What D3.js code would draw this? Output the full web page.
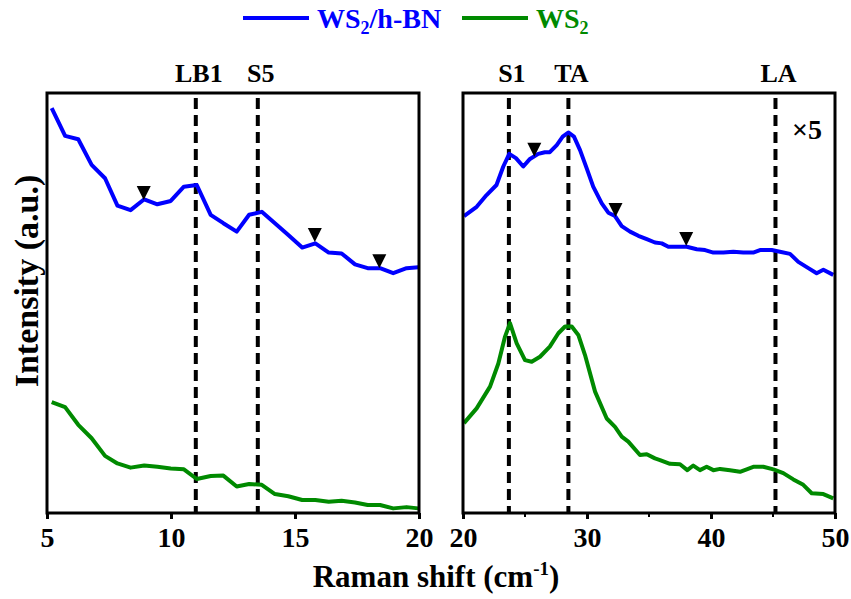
<!DOCTYPE html>
<meta charset="utf-8">
<style>
	body { margin: 0; background: #fff; }
	text { font-family: "Liberation Serif", "Times New Roman", serif; font-weight: bold; }
</style>
<body>
<script src="https://cdn.jsdelivr.net/npm/d3@7"></script>
<script>
	// ---- data (intensity in arbitrary units, 0-100) ----
	var leftX = [5.19,5.73,6.26,6.8,7.34,7.84,8.37,8.92,9.45,9.99,10.52,11.04,11.6,12.11,12.65,13.15,13.66,14.19,14.73,15.29,15.82,16.36,16.88,17.42,17.93,18.43,18.96,19.5,19.97];
	var leftBN = [96.4,89.8,89.0,82.9,79.7,73.2,72.1,74.7,73.5,74.3,77.7,78.1,71.0,69.0,67.0,71.0,71.7,69.0,66.2,63.2,64.2,62.0,61.8,59.2,58.3,58.3,57.1,58.3,58.5];
	var leftWS2 = [26.4,25.2,21.0,17.8,13.6,11.8,10.8,11.3,11.0,10.6,10.4,8.1,8.8,8.9,6.3,6.9,6.7,4.5,4.0,3.1,3.1,2.7,2.9,2.5,1.9,1.9,1.1,1.4,1.1];

	var rightBNX = [20.08,21.1,21.9,22.7,23.25,23.73,24.27,24.86,25.4,26.07,26.6,27.0,27.56,28.04,28.49,28.95,29.44,29.97,30.5,31.19,31.72,32.26,32.8,33.47,34.14,34.82,35.48,36.03,36.56,37.23,38.04,38.85,39.52,40.19,41.0,41.8,42.6,43.4,43.95,44.9,45.56,46.37,47.04,47.85,48.52,49.06,49.86];
	var rightBN = [70.7,72.9,75.7,78.1,82.5,85.5,84.5,82.5,84.3,85.5,85.9,85.9,87.6,89.6,90.6,89.6,86.4,82.1,77.7,73.7,71.5,70.7,68.3,67.0,66.0,65.2,64.4,64.2,63.4,63.4,63.4,62.8,62.6,62.0,62.0,62.2,62.0,62.0,62.6,62.6,62.2,61.7,59.8,58.3,57.1,57.9,56.7];
	var rightWSX = [20.08,21.1,22.18,22.85,23.39,23.79,24.33,25.0,25.54,26.21,27.0,27.69,28.23,28.77,29.3,29.84,30.65,31.59,32.26,32.8,33.33,34.27,34.82,35.48,35.89,36.69,37.5,38.09,38.57,39.11,39.65,40.19,40.73,41.53,42.34,42.88,43.41,44.22,45.03,45.83,46.64,47.44,48.12,49.06,49.86];
	var rightWS2 = [21.4,24.9,30.1,35.6,42.0,45.2,40.4,36.4,36.0,37.2,39.6,42.8,44.4,44.4,42.4,37.6,28.9,22.5,20.5,18.2,17.0,13.8,14.0,13.0,12.6,11.7,11.6,10.2,11.3,10.2,11.0,10.2,10.5,10.2,9.8,10.4,11.0,11.0,10.4,9.5,8.0,6.7,4.7,4.5,3.5];

	var leftPeaks = [["LB1", 11], ["S5", 13.5]];
	var rightPeaks = [["S1", 23.7], ["TA", 28.5], ["LA", 45.2]];
	var leftMarks = [[8.9, 74.5], [15.8, 64.5], [18.4, 58.3]];
	var rightMarks = [[25.75, 84.8], [32.3, 70.5], [38.0, 63.6]];

	var leftTicks = [5, 10, 15, 20];
	var rightTicks = [20, 30, 40, 50];
	var rightMinor = [25, 35, 45];

	var blue = "#0000ff";
	var green = "#008a00";

	var width = 851, height = 599;
	var svg = d3.select("body").append("svg")
		.attr("width", width)
		.attr("height", height);

	var y = d3.scaleLinear().domain([0, 100]).range([513, 93]);
	var xL = d3.scaleLinear().domain([5, 20]).range([47, 419]);
	var xR = d3.scaleLinear().domain([20, 50]).range([463, 835]);

	function zip(xs, ys) { return xs.map(function(v, i) { return [v, ys[i]]; }); }

	function panel(x, ticks, minor, peaks, marks, series) {
		var g = svg.append("g");

		// dashed peak lines
		g.selectAll("line.peak")
			.data(peaks)
			.enter()
			.append("line")
			.attr("class", "peak")
			.attr("x1", function(d) { return x(d[1]); })
			.attr("x2", function(d) { return x(d[1]); })
			.attr("y1", y.range()[1] + 5)
			.attr("y2", y.range()[0])
			.attr("stroke", "black")
			.attr("stroke-width", 4)
			.attr("stroke-dasharray", "11,6");

		g.selectAll("text.peak")
			.data(peaks)
			.enter()
			.append("text")
			.attr("class", "peak")
			.text(function(d) { return d[0]; })
			.attr("x", function(d) { return x(d[1]) + 3; })
			.attr("y", 82)
			.attr("text-anchor", "middle")
			.attr("font-size", "26px");

		// curves
		series.forEach(function(s) {
			var line = d3.line()
				.x(function(d) { return x(d[0]); })
				.y(function(d) { return y(d[1]); });
			g.append("path")
				.datum(s.data)
				.attr("d", line)
				.attr("fill", "none")
				.attr("stroke", s.color)
				.attr("stroke-width", 4)
				.attr("stroke-linejoin", "round");
		});

		// down-pointing triangles, tip on the curve
		g.selectAll("path.mark")
			.data(marks)
			.enter()
			.append("path")
			.attr("class", "mark")
			.attr("d", function(d) {
				var px = x(d[0]), py = y(d[1]);
				return "M" + (px - 7) + "," + (py - 14) + "L" + (px + 7) + "," + (py - 14) + "L" + px + "," + py + "Z";
			})
			.attr("fill", "black");

		// frame
		g.append("rect")
			.attr("x", x.range()[0])
			.attr("y", y.range()[1])
			.attr("width", x.range()[1] - x.range()[0])
			.attr("height", y.range()[0] - y.range()[1])
			.attr("fill", "none")
			.attr("stroke", "black")
			.attr("stroke-width", 3);

		// bottom axis
		var axis = g.append("g")
			.attr("transform", "translate(0," + y.range()[0] + ")")
			.call(d3.axisBottom(x).tickValues(ticks).tickSize(6).tickPadding(8).tickSizeOuter(0));
		axis.select(".domain").remove();
		axis.selectAll(".tick line").attr("stroke-width", 3);
		axis.selectAll(".tick text")
			.attr("font-family", "'Liberation Serif', 'Times New Roman', serif")
			.attr("font-weight", "bold")
			.attr("font-size", "28px")
			.attr("fill", "black");

		g.selectAll("line.minor")
			.data(minor)
			.enter()
			.append("line")
			.attr("class", "minor")
			.attr("x1", function(d) { return x(d); })
			.attr("x2", function(d) { return x(d); })
			.attr("y1", y.range()[0])
			.attr("y2", y.range()[0] + 4)
			.attr("stroke", "black")
			.attr("stroke-width", 2);
	}

	panel(xL, leftTicks, [], leftPeaks, leftMarks, [
		{ data: zip(leftX, leftBN), color: blue },
		{ data: zip(leftX, leftWS2), color: green }
	]);
	panel(xR, rightTicks, rightMinor, rightPeaks, rightMarks, [
		{ data: zip(rightBNX, rightBN), color: blue },
		{ data: zip(rightWSX, rightWS2), color: green }
	]);

	// x5 note
	svg.append("text")
		.text("×5")
		.attr("x", 792)
		.attr("y", 139)
		.attr("font-weight", "normal")
		.attr("font-size", "28px");

	// legend
	var legend = [["WS", "2", "/h-BN", blue, 243], ["WS", "2", "", green, 462]];
	var lg = svg.selectAll("g.legend")
		.data(legend)
		.enter()
		.append("g")
		.attr("class", "legend");
	lg.append("line")
		.attr("x1", function(d) { return d[4]; })
		.attr("x2", function(d) { return d[4] + 66; })
		.attr("y1", 18)
		.attr("y2", 18)
		.attr("stroke", function(d) { return d[3]; })
		.attr("stroke-width", 4);
	var lt = lg.append("text")
		.attr("x", function(d) { return d[4] + 74; })
		.attr("y", 28)
		.attr("fill", function(d) { return d[3]; })
		.attr("font-size", "28px");
	lt.append("tspan").text(function(d) { return d[0]; });
	lt.append("tspan").text(function(d) { return d[1]; }).attr("font-size", "18px").attr("dy", 6);
	lt.append("tspan").text(function(d) { return d[2]; }).attr("dy", -6);

	// axis titles
	var xt = svg.append("text")
		.attr("x", 436)
		.attr("y", 587)
		.attr("text-anchor", "middle")
		.attr("font-size", "31px");
	xt.append("tspan").text("Raman shift (cm");
	xt.append("tspan").text("-1").attr("font-size", "19px").attr("dy", -12);
	xt.append("tspan").text(")").attr("dy", 12);

	svg.append("text")
		.text("Intensity (a.u.)")
		.attr("transform", "translate(38,281) rotate(-90)")
		.attr("text-anchor", "middle")
		.attr("font-size", "34px");
</script>
</body>
